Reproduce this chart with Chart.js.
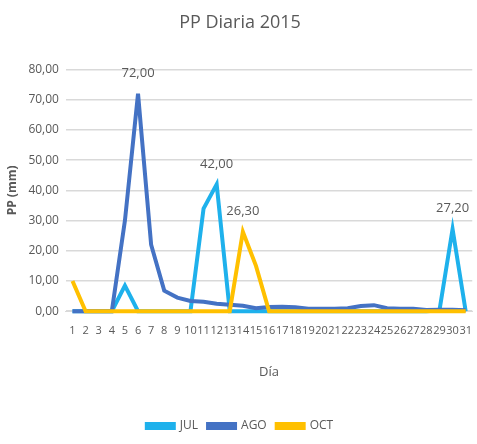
<!DOCTYPE html>
<html>
<head>
<meta charset="utf-8">
<script src="https://cdn.jsdelivr.net/npm/chart.js@4"></script>
<style>
  html, body { margin: 0; padding: 0; background: #fff; }
  #wrap { width: 477px; height: 444px; }
</style>
</head>
<body>
<div id="wrap"><canvas id="ppChart" width="477" height="444"></canvas></div>
<script>
// Días del mes
const days = Array.from({ length: 31 }, (_, i) => String(i + 1));

// Precipitación diaria (mm)
const julValues = [0, 0, 0, 0, 8.5, 0, 0, 0, 0, 0, 34, 42, 0, 0, 0, 0, 0, 0, 0, 0, 0, 0, 0, 0, 0, 0, 0, 0, 0.3, 27.2, 0];
const agoValues = [0, 0, 0, 0, 30, 72, 22, 6.8, 4.5, 3.4, 3.1, 2.5, 2.1, 1.8, 1.0, 1.4, 1.5, 1.3, 0.8, 0.8, 0.8, 1.0, 1.7, 2.0, 1.0, 0.8, 0.8, 0.4, 0.5, 0.5, 0.3];
const octValues = [10, 0, 0, 0, 0, 0, 0, 0, 0, 0, 0, 0, 0, 26.3, 15, 0, 0, 0, 0, 0, 0, 0, 0, 0, 0, 0, 0, 0, 0, 0, 0];

const seriesNames = ['JUL', 'AGO', 'OCT'];
const seriesColors = ['#1EB1EC', '#4472C4', '#FFC000'];

// Etiquetas de datos: [serie, índice del día]
const labeledPoints = [[0, 11], [1, 5], [2, 13], [0, 29]];

const fontFamily = "'Open Sans', sans-serif";
const textColor = '#595959';

const fmt = v => v.toFixed(2).replace('.', ',');

// Plugin para dibujar las etiquetas de los picos
const peakLabels = {
    id: 'peakLabels',
    afterDatasetsDraw(chart) {
        const ctx = chart.ctx;
        ctx.save();
        ctx.font = `13px ${fontFamily}`;
        ctx.fillStyle = textColor;
        ctx.textAlign = 'center';
        ctx.textBaseline = 'bottom';
        labeledPoints.forEach(([ds, idx]) => {
            const el = chart.getDatasetMeta(ds).data[idx];
            const value = chart.data.datasets[ds].data[idx];
            ctx.fillText(fmt(value), el.x, el.y - 14);
        });
        ctx.restore();
    }
};

const allValues = [julValues, agoValues, octValues];

new Chart(document.getElementById('ppChart').getContext('2d'), {
    type: 'line',
    data: {
        labels: days,
        datasets: seriesNames.map((name, i) => ({
            label: name,
            data: allValues[i],
            borderColor: seriesColors[i],
            backgroundColor: seriesColors[i],
            borderWidth: 4,
            pointRadius: 0,
            tension: 0,
            clip: 6,
            order: 3 - i
        }))
    },
    options: {
        responsive: false,
        animation: false,
        layout: { padding: { left: 5, right: 2, top: 8, bottom: 2 } },
        plugins: {
            title: {
                display: true,
                text: 'PP Diaria 2015',
                color: textColor,
                font: { family: fontFamily, size: 18, weight: 'normal' },
                padding: { top: 4, bottom: 36 }
            },
            legend: {
                position: 'bottom',
                labels: {
                    color: textColor,
                    font: { family: fontFamily, size: 12 },
                    boxWidth: 27,
                    boxHeight: 4,
                    padding: 10,
                    sort: (a, b) => a.datasetIndex - b.datasetIndex
                }
            },
            tooltip: { enabled: false }
        },
        scales: {
            x: {
                offset: true,
                grid: { display: false },
                border: { color: '#d9d9d9' },
                ticks: {
                    color: textColor,
                    font: { family: fontFamily, size: 11 },
                    autoSkip: false,
                    maxRotation: 0,
                    minRotation: 0,
                    padding: 5
                },
                title: {
                    display: true,
                    text: 'Día',
                    color: textColor,
                    font: { family: fontFamily, size: 13 },
                    padding: { top: 22, bottom: 30 }
                }
            },
            y: {
                min: 0,
                max: 80,
                grid: { color: '#d9d9d9', lineWidth: 1.5, drawTicks: false },
                border: { display: false },
                ticks: {
                    stepSize: 10,
                    color: textColor,
                    font: { family: fontFamily, size: 12 },
                    padding: 7,
                    callback: v => fmt(v)
                },
                title: {
                    display: true,
                    text: 'PP (mm)',
                    color: textColor,
                    font: { family: fontFamily, size: 12, weight: 'bold' },
                    padding: { top: 0, bottom: 2 }
                }
            }
        }
    },
    plugins: [peakLabels]
});
</script>
</body>
</html>
